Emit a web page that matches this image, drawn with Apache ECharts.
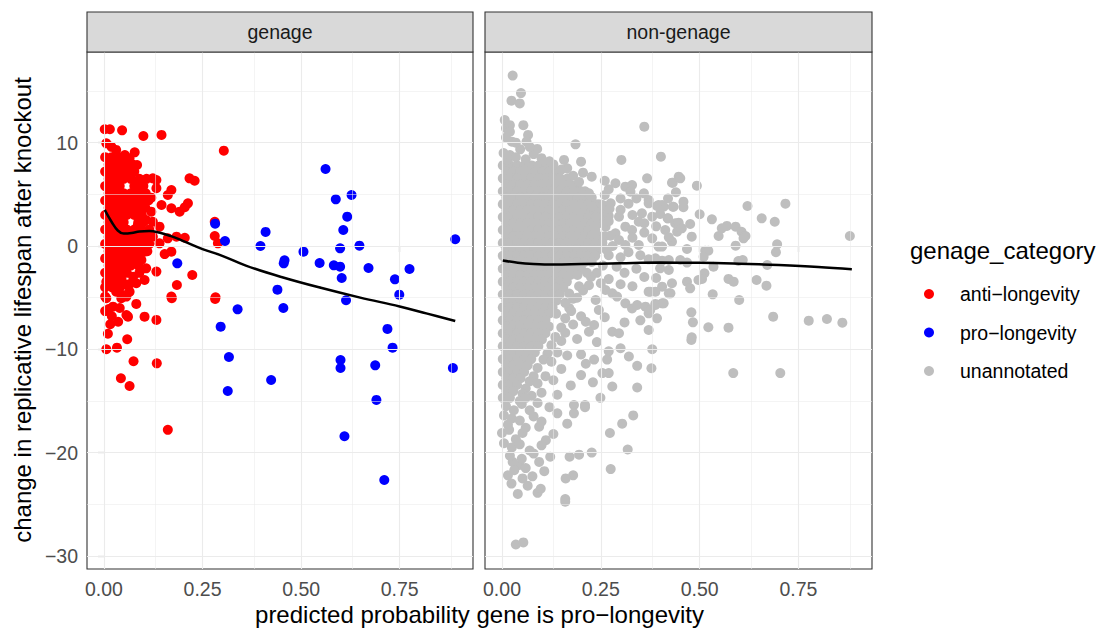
<!DOCTYPE html>
<html><head><meta charset="utf-8">
<script src="https://cdn.jsdelivr.net/npm/echarts@6/dist/echarts.min.js"></script>
<style>html,body{margin:0;padding:0;background:#fff}#c{width:1100px;height:629px}</style>
</head><body><div id="c"></div>
<script>
const facets = ['genage', 'non-genage'];
const categories = ['anti\u2212longevity', 'pro\u2212longevity', 'unannotated'];
const xTicks = [0, 0.25, 0.5, 0.75];
const xTickLabels = ['0.00', '0.25', '0.50', '0.75'];
const xMinor = [0.125, 0.375, 0.625, 0.875];
const yTicks = [-30, -20, -10, 0, 10];
const yTickLabels = ['\u221230', '\u221220', '\u221210', '0', '10'];
const yMinor = [-25, -15, -5, 5, 15];
const xRange = [-0.043, 0.936];
const yRange = [-31.27, 18.78];

// anti-longevity: scattered points read individually
const antiLongevitySparse = [
[0.002,11.3],[0.015,11.3],[0.046,11.2],[0.1,10.65],[0.146,10.75],[0.304,9.23],
[0.006,9.94],[0.019,9.6],[0.031,9.3],[0.053,8.8],[0.078,9.07],[0.065,8.49],[0.084,7.84],[0.065,7.5],[0.124,6.55],[0.133,6.39],[0.217,6.55],[0.23,6.32],[0.086,5.9],[0.133,5.6],[0.171,5.42],[0.162,4.94],[0.12,4.68],[0.146,3.97],[0.171,3.65],[0.213,4.13],[0.205,3.75],[0.192,3.32],[0.12,3.32],[0.107,2.52],[0.124,2.35],[0.086,2.03],[0.141,1.87],[0.281,2.35],[0.184,0.9],[0.205,0.8],[0.281,0.97],[0.289,0.26],[0.141,0.26],[0.162,0.74],[0.103,-0.55],[0.09,-1.03],[0.154,-0.78],[0.171,-0.55],[0.133,-2.48],[0.107,-2.16],[0.095,-1.36],[0.224,-2.81],[0.185,-3.78],[0.171,-4.9],[0.283,-4.97],[0.074,-2.97],[0.057,-3.78],[0.031,-4.42],[0.048,-4.74],[0.065,-4.42],[0.006,-3.45],[0.003,-4.9],
[0.031,-3.61],[0.065,-3.68],[0.082,-3.61],[0.103,-3.29],[0.006,-5.06],[0.023,-5.87],[0.044,-5.06],[0.057,-4.9],[0.082,-5.61],[0.172,-5.06],[0.282,-5.13],[0.016,-7.58],[0.036,-7.33],[0.057,-6.68],[0.061,-6.84],[0.103,-6.84],[0.133,-7.16],[0.059,-9.03],[0.006,-10.0],[0.033,-9.84],[0.075,-11.16],[0.134,-11.36],[0.043,-12.8],[0.065,-13.55],[0.162,-17.8],
[0.003,-6.3],[0.012,-6.1],[0.04,-6.0],[0.02,-6.8],[0.01,-8.5]
];
// anti-longevity: dense core, one row per y value with the x positions along it
const antiLongevityCoreRows = [
[8.6,[0.003,0.02,0.04]],
[7.9,[0.012,0.03,0.05,0.072]],
[7.2,[0.003,0.021,0.04,0.058,0.077]],
[6.5,[0.012,0.03,0.05,0.068,0.09,0.108]],
[5.8,[0.003,0.021,0.04,0.077,0.1]],
[5.1,[0.012,0.03,0.05,0.068,0.087,0.106]],
[4.4,[0.003,0.021,0.04,0.058,0.077,0.096,0.113]],
[3.7,[0.012,0.03,0.05,0.068,0.087,0.105]],
[3.0,[0.003,0.021,0.04,0.058,0.077,0.096]],
[2.3,[0.012,0.03,0.05,0.087,0.1]],
[1.6,[0.003,0.021,0.04,0.058,0.077,0.096,0.115]],
[0.9,[0.012,0.03,0.05,0.068,0.087,0.106,0.124]],
[0.2,[0.003,0.021,0.04,0.058,0.077,0.096,0.115]],
[-0.5,[0.012,0.03,0.05,0.068,0.087,0.11]],
[-1.2,[0.003,0.021,0.04,0.058,0.077]],
[-1.9,[0.012,0.03,0.05,0.068,0.087]],
[-2.6,[0.003,0.021,0.04,0.058,0.09]],
[-3.3,[0.012,0.03,0.045]],
[-4.0,[0.003,0.021,0.04]]
];

const proLongevity = [
[0.562,7.45],[0.588,4.52],[0.628,4.94],[0.617,2.84],[0.607,1.55],[0.599,-0.23],[0.648,0.03],[0.891,0.65],[0.41,1.36],[0.397,0.0],[0.506,-0.55],[0.458,-1.39],[0.456,-1.68],[0.547,-1.65],[0.583,-1.87],[0.599,-2.0],[0.603,-3.1],[0.671,-2.13],[0.738,-3.23],[0.775,-2.23],[0.749,-4.71],[0.44,-4.23],[0.282,2.16],[0.307,0.48],[0.614,-5.25],[0.186,-1.68],[0.339,-6.13],[0.455,-6.0],[0.296,-7.81],[0.719,-8.03],[0.732,-9.84],[0.317,-10.75],[0.6,-11.04],[0.6,-11.81],[0.688,-11.55],[0.885,-11.81],[0.424,-12.97],[0.314,-14.04],[0.691,-14.9],[0.61,-18.42],[0.711,-22.65]
];

// unannotated: saturated core, one row per y value with the x positions along it
const unannotatedCoreRows = [
[7.8,[0.002,0.02,0.038,0.057,0.075,0.093,0.112]],
[7.2,[0.011,0.029,0.047,0.066,0.084,0.102,0.12,0.138]],
[6.55,[0.002,0.02,0.038,0.056,0.074,0.093,0.111,0.129,0.147,0.166]],
[5.95,[0.011,0.029,0.047,0.065,0.083,0.101,0.119,0.137,0.155,0.173,0.19]],
[5.3,[0.002,0.02,0.038,0.056,0.074,0.092,0.11,0.128,0.146,0.164,0.182,0.2,0.21]],
[4.7,[0.011,0.029,0.047,0.065,0.083,0.101,0.119,0.137,0.155,0.173,0.191,0.209,0.227]],
[4.05,[0.002,0.02,0.038,0.056,0.074,0.092,0.11,0.128,0.146,0.164,0.182,0.2,0.218,0.236,0.245]],
[3.45,[0.011,0.029,0.047,0.065,0.083,0.101,0.119,0.137,0.155,0.173,0.191,0.209,0.227,0.245,0.256]],
[2.8,[0.002,0.02,0.038,0.056,0.074,0.092,0.11,0.128,0.146,0.164,0.182,0.2,0.218,0.236,0.254]],
[2.2,[0.011,0.029,0.047,0.065,0.083,0.101,0.119,0.137,0.155,0.173,0.191,0.209,0.227,0.245,0.26]],
[1.55,[0.002,0.02,0.038,0.056,0.074,0.092,0.11,0.128,0.146,0.164,0.182,0.2,0.218,0.236]],
[0.95,[0.011,0.029,0.047,0.065,0.083,0.101,0.119,0.137,0.155,0.173,0.191,0.209,0.227,0.245,0.26]],
[0.3,[0.002,0.02,0.038,0.056,0.074,0.092,0.11,0.128,0.146,0.164,0.182,0.2,0.218,0.236,0.254]],
[-0.3,[0.011,0.029,0.047,0.065,0.083,0.101,0.119,0.137,0.155,0.173,0.191,0.209,0.227,0.245]],
[-0.95,[0.002,0.02,0.038,0.056,0.074,0.092,0.11,0.128,0.146,0.164,0.182,0.2,0.218,0.236]],
[-1.55,[0.011,0.029,0.047,0.065,0.083,0.101,0.119,0.137,0.155,0.173,0.191,0.209,0.227]],
[-2.2,[0.002,0.02,0.038,0.056,0.074,0.092,0.11,0.128,0.146,0.164,0.182,0.2]],
[-2.8,[0.011,0.029,0.047,0.065,0.083,0.101,0.119,0.137,0.155,0.173,0.191]],
[-3.45,[0.002,0.02,0.038,0.056,0.074,0.092,0.11,0.128,0.146,0.164]],
[-4.05,[0.011,0.029,0.047,0.065,0.083,0.101,0.119,0.137,0.155]],
[-4.7,[0.002,0.02,0.038,0.056,0.074,0.092,0.11,0.128,0.146]],
[-5.3,[0.011,0.029,0.047,0.065,0.083,0.101,0.119,0.137]],
[-5.95,[0.002,0.02,0.038,0.056,0.074,0.092,0.11,0.128]],
[-6.55,[0.011,0.029,0.047,0.065,0.083,0.101,0.119,0.137]],
[-7.2,[0.002,0.02,0.038,0.056,0.074,0.092,0.11]],
[-7.8,[0.011,0.029,0.047,0.065,0.083,0.101,0.119]],
[-8.45,[0.002,0.02,0.038,0.056,0.074,0.092,0.11]],
[-9.05,[0.011,0.029,0.047,0.065,0.083,0.101]],
[-9.7,[0.002,0.02,0.038,0.056,0.074,0.092]],
[-10.3,[0.011,0.029,0.047,0.065,0.083]],
[-10.95,[0.002,0.02,0.038,0.056,0.074]],
[-11.55,[0.011,0.029,0.047,0.065]],
[-12.2,[0.002,0.02,0.038,0.056]],
[-12.8,[0.011,0.029,0.047]],
[-13.45,[0.002,0.02,0.038]],
[-14.05,[0.011,0.029]],
[-14.7,[0.002,0.02]]
];

// unannotated: scattered points read individually
const unannotatedSparse = [
[0.027,16.5],[0.048,14.8],[0.024,14.07],[0.045,13.8],[0.007,12.2],[0.01,11.4],[0.02,11.7],[0.02,11.07],[0.025,10.1],[0.054,11.7],[0.066,10.75],[0.062,10.1],[0.089,9.4],[0.046,9.36],[0.186,9.84],[0.36,11.55],[0.302,8.33],[0.402,8.65],[0.014,8.33],[0.02,8.8],[0.157,8.33],[0.2,8.16],[0.165,7.52],[0.205,7.1],[0.227,6.71],[0.26,6.32],[0.367,6.55],[0.432,6.13],[0.447,6.71],
[0.004,9.0],[0.035,8.6],[0.06,8.4],[0.08,8.9],[0.1,8.5],[0.12,8.2],[0.07,9.6],[0.01,10.5],[0.035,10.0],[0.13,7.9],[0.15,7.4],[0.18,6.8],[0.195,6.2],
[0.287,6.07],[0.312,5.74],[0.329,5.9],[0.325,5.26],[0.26,4.94],[0.275,4.13],[0.255,3.97],[0.359,5.1],[0.371,4.45],[0.396,3.97],[0.409,3.8],[0.434,3.8],[0.354,3.16],[0.38,2.84],[0.419,2.68],[0.438,2.2],[0.443,1.38],[0.296,2.84],[0.312,1.87],[0.329,1.55],[0.346,2.35],[0.262,1.87],[0.287,1.23],[0.296,0.58],[0.312,0.1],[0.346,0.1],[0.396,-0.06],[0.43,0.42],[0.413,1.55],[0.38,0.74],[0.22,5.1],[0.228,3.8],[0.237,2.84],
[0.27,5.5],[0.3,4.6],[0.32,4.1],[0.34,4.6],[0.3,3.5],[0.33,3.0],[0.36,2.2],[0.39,1.9],[0.4,3.1],[0.42,4.6],[0.44,5.2],[0.27,2.9],[0.28,0.0],[0.33,0.8],[0.36,1.3],[0.27,-0.9],[0.3,-1.1],[0.32,-0.6],[0.35,-0.9],[0.29,-2.0],[0.31,-2.6],[0.34,-2.2],[0.36,-3.0],[0.27,-3.2],[0.3,-3.7],[0.33,-3.9],[0.39,-3.1],[0.25,-3.6],[0.35,-7.2],[0.31,-7.4],[0.26,-6.9],[0.24,-9.3],[0.27,-10.2],[0.2,-12.5],[0.23,-13.2],
[0.27,2.4],[0.275,1.0],[0.272,3.6],[0.265,-0.4],[0.255,-1.9],[0.24,-2.6],[0.225,-3.0],[0.215,-2.6],[0.195,-3.9],[0.18,-5.1],[0.17,-6.0],[0.16,-7.0],[0.15,-7.9],[0.135,-8.8],[0.125,-9.6],[0.115,-10.4],[0.105,-11.0],[0.09,-11.8],[0.08,-12.6],[0.07,-13.1],[0.06,-13.8],[0.052,-14.3],[0.045,-15.0],
[0.43,6.13],[0.451,6.55],[0.493,5.84],[0.621,3.87],[0.717,4.1],[0.88,0.97],[0.657,2.68],[0.69,2.35],[0.531,2.58],[0.5,3.07],[0.459,4.29],[0.459,3.75],[0.432,3.8],[0.405,3.97],[0.392,3.87],[0.371,4.13],[0.42,2.68],[0.447,2.26],[0.455,1.71],[0.476,2.13],[0.48,0.9],[0.468,-0.29],[0.422,0.84],[0.405,-0.06],[0.556,1.71],[0.569,1.94],[0.591,1.87],[0.606,1.38],[0.616,0.97],[0.611,0.74],[0.548,0.97],[0.696,0.16],[0.693,-0.61],[0.591,0.03],[0.514,-0.45],[0.522,-0.45],[0.51,-1.04],[0.468,-1.61],[0.451,-1.36],[0.422,-1.36],[0.405,-1.42],[0.388,-1.19],[0.371,-1.29],[0.535,-2.0],[0.598,-1.45],[0.609,-1.36],[0.671,-1.84],[0.422,-2.32],[0.4,-2.16],[0.512,-2.64],[0.497,-3.29],[0.506,-3.19],[0.468,-3.45],[0.476,-4.1],[0.43,-3.61],[0.405,-3.94],[0.388,-4.42],[0.371,-4.42],[0.573,-3.19],[0.586,-3.45],[0.644,-3.29],[0.669,-3.84],[0.533,-4.68],[0.6,-5.23],[0.422,-4.58],[0.405,-5.55],[0.388,-5.61],[0.392,-7.0],[0.371,-6.52],[0.371,-8.13],[0.479,-6.42],[0.483,-7.39],[0.522,-7.87],[0.573,-7.91],[0.479,-9.1],[0.48,-8.84],[0.686,-6.84],[0.776,-7.23],[0.822,-7.07],[0.861,-7.42],[0.704,-12.3],[0.585,-12.3],
[0.212,-7.33],[0.233,-7.65],[0.22,-8.3],[0.237,-5.23],[0.245,-6.2],[0.262,-4.26],[0.279,-4.58],[0.291,-4.9],[0.312,-5.55],[0.329,-6.04],[0.342,-5.71],[0.363,-5.87],[0.375,-6.2],[0.388,-5.71],[0.409,-5.55],[0.426,-4.58],[0.375,-4.42],[0.279,-8.3],[0.296,-8.45],[0.3,-9.9],[0.321,-10.7],[0.342,-11.6],[0.38,-10.0],[0.378,-11.84],[0.266,-11.0],[0.254,-12.3],[0.27,-12.3],[0.279,-13.6],[0.342,-13.7],[0.249,-14.7],[0.212,-11.4],[0.233,-11.0],[0.174,-13.5],[0.182,-15.4],[0.21,-15.6],[0.182,-16.2],[0.165,-17.2],[0.332,-16.4],[0.304,-17.2],[0.273,-18.1],[0.318,-19.7],[0.227,-20.0],[0.195,-20.2],[0.171,-20.4],[0.275,-21.6],[0.122,-20.4],[0.18,-22.2],[0.161,-22.5],[0.16,-24.5],[0.21,-15.4],
[0.035,-28.9],[0.054,-28.7],[0.16,-24.75],[0.024,-23.0],[0.09,-23.9],[0.098,-23.5],[0.052,-22.5],[0.077,-22.3],[0.107,-21.8],[0.094,-20.9],[0.044,-21.2],[0.027,-20.9],[0.031,-21.7],[0.0,-18.1],[0.018,-17.8],[0.052,-18.1],[0.094,-17.5],[0.111,-18.8],
[0.01,-15.5],[0.03,-15.9],[0.05,-15.3],[0.07,-15.9],[0.09,-15.2],[0.12,-15.6],[0.005,-16.4],[0.025,-16.7],[0.045,-16.9],[0.08,-16.5],[0.1,-17.0],[0.14,-16.2],[0.015,-17.3],[0.035,-18.7],[0.06,-17.6],[0.13,-18.2],[0.005,-19.1],[0.025,-19.5],[0.045,-19.2],[0.07,-19.8],[0.1,-19.3],[0.02,-20.3],[0.05,-20.6],[0.08,-20.1],[0.06,-21.5],[0.065,-23.2],[0.04,-24.0],[0.015,-22.2],
[0.16,-5.5],[0.175,-6.3],[0.19,-5.0],[0.2,-6.8],[0.18,-7.6],[0.16,-8.4],[0.15,-9.2],[0.19,-9.0],[0.205,-4.3],[0.22,-3.8],[0.17,-4.6],[0.14,-10.3],[0.125,-11.2],[0.15,-11.9],[0.11,-12.6],[0.09,-13.3],[0.1,-14.2],[0.075,-14.5],[0.13,-13.0],[0.06,-14.7],[0.165,-10.6],[0.2,-10.5],[0.14,-14.4]
];

const smoothGenage = [[0.002,3.5],[0.02,2.3],[0.035,1.5],[0.05,1.2],[0.07,1.25],[0.09,1.4],[0.115,1.45],[0.14,1.3],[0.17,0.95],[0.2,0.5],[0.25,-0.3],[0.3,-0.95],[0.36,-1.9],[0.45,-3.0],[0.55,-4.05],[0.65,-5.0],[0.75,-5.85],[0.82,-6.55],[0.891,-7.26]];
const smoothNonGenage = [[0.002,-1.4],[0.04,-1.62],[0.08,-1.74],[0.13,-1.8],[0.2,-1.75],[0.3,-1.67],[0.4,-1.61],[0.5,-1.63],[0.6,-1.72],[0.7,-1.85],[0.8,-2.03],[0.885,-2.25]];

const expandRows = rows => rows.flatMap(([y, xs]) => xs.map(x => [x, y]));
const antiLongevity = expandRows(antiLongevityCoreRows).concat(antiLongevitySparse);
const unannotated = expandRows(unannotatedCoreRows).concat(unannotatedSparse);

const FONT = '"Liberation Sans", Arial, Helvetica, sans-serif';
const grids = [
  {left: 87, top: 52, width: 386, height: 517},
  {left: 485, top: 52, width: 387, height: 517}
];
const chart = echarts.init(document.getElementById('c'), null, {renderer: 'svg'});

function lookup(vals, labels, v) {
  for (let i = 0; i < vals.length; i++) if (Math.abs(vals[i] - v) < 1e-9) return labels[i];
  return '';
}
function gridLines() {
  const d = [];
  xTicks.forEach(v => d.push({xAxis: v, lineStyle: {width: 1.1}}));
  xMinor.forEach(v => d.push({xAxis: v, lineStyle: {width: 0.55}}));
  yTicks.forEach(v => d.push({yAxis: v, lineStyle: {width: 1.1}}));
  yMinor.forEach(v => d.push({yAxis: v, lineStyle: {width: 0.55}}));
  return d;
}

const option = {
  animation: false,
  backgroundColor: '#ffffff',
  textStyle: {fontFamily: FONT},
  grid: grids.map(g => Object.assign({show: true, borderColor: '#333333', borderWidth: 1.1, backgroundColor: 'transparent', containLabel: false}, g)),
  xAxis: [0, 1].map(i => ({
    type: 'value', gridIndex: i, min: xRange[0], max: xRange[1],
    axisLine: {show: false}, splitLine: {show: false},
    axisTick: {show: true, customValues: xTicks, length: 6, lineStyle: {color: '#333333', width: 1.1}},
    axisLabel: {customValues: xTicks, formatter: v => lookup(xTicks, xTickLabels, v), color: '#4D4D4D', fontSize: 19.5, margin: 10, fontFamily: FONT}
  })),
  yAxis: [0, 1].map(i => ({
    type: 'value', gridIndex: i, min: yRange[0], max: yRange[1],
    axisLine: {show: false}, splitLine: {show: false},
    axisTick: {show: i === 0, customValues: yTicks, length: 6, lineStyle: {color: '#333333', width: 1.1}},
    axisLabel: {show: i === 0, customValues: yTicks, formatter: v => lookup(yTicks, yTickLabels, v), color: '#4D4D4D', fontSize: 19.5, margin: 9, fontFamily: FONT}
  })),
  legend: {
    orient: 'vertical', left: 919, top: 279, icon: 'circle', itemWidth: 10, itemHeight: 10, itemGap: 18.5,
    data: categories, selectedMode: false,
    textStyle: {fontSize: 19.5, color: '#000000', fontFamily: FONT, lineHeight: 20, padding: [0, 0, 0, 21]}
  },
  graphic: [
    {type: 'rect', shape: {x: grids[0].left, y: 12, width: grids[0].width, height: 40}, style: {fill: '#D9D9D9', stroke: '#333333', lineWidth: 1.1}, z: 10},
    {type: 'rect', shape: {x: grids[1].left, y: 12, width: grids[1].width, height: 40}, style: {fill: '#D9D9D9', stroke: '#333333', lineWidth: 1.1}, z: 10},
    {type: 'text', x: grids[0].left + grids[0].width / 2, y: 32, style: {text: facets[0], fill: '#1A1A1A', fontSize: 19.5, fontFamily: FONT, textAlign: 'center', textVerticalAlign: 'middle'}, z: 11},
    {type: 'text', x: grids[1].left + grids[1].width / 2, y: 32, style: {text: facets[1], fill: '#1A1A1A', fontSize: 19.5, fontFamily: FONT, textAlign: 'center', textVerticalAlign: 'middle'}, z: 11},
    {type: 'text', x: 479.5, y: 614, style: {text: 'predicted probability gene is pro\u2212longevity', fill: '#000000', fontSize: 24, fontFamily: FONT, textAlign: 'center', textVerticalAlign: 'middle'}},
    {type: 'text', x: 22, y: 310, rotation: Math.PI / 2, style: {text: 'change in replicative lifespan after knockout', fill: '#000000', fontSize: 24, fontFamily: FONT, textAlign: 'center', textVerticalAlign: 'middle'}},
    {type: 'text', x: 910, y: 250, style: {text: 'genage_category', fill: '#000000', fontSize: 24, fontFamily: FONT, textAlign: 'left', textVerticalAlign: 'middle'}}
  ],
  series: [
    {type: 'scatter', name: '_grid0', xAxisIndex: 0, yAxisIndex: 0, data: [[0, 0]], symbolSize: 0, silent: true, z: 1,
      markLine: {silent: true, symbol: 'none', animation: false, label: {show: false}, lineStyle: {color: '#EBEBEB', type: 'solid'}, data: gridLines()}},
    {type: 'scatter', name: '_grid1', xAxisIndex: 1, yAxisIndex: 1, data: [[0, 0]], symbolSize: 0, silent: true, z: 1,
      markLine: {silent: true, symbol: 'none', animation: false, label: {show: false}, lineStyle: {color: '#EBEBEB', type: 'solid'}, data: gridLines()}},
    {type: 'scatter', name: categories[0], xAxisIndex: 0, yAxisIndex: 0, data: antiLongevity, symbolSize: 10, itemStyle: {color: '#FF0000', opacity: 1}, z: 3},
    {type: 'scatter', name: categories[1], xAxisIndex: 0, yAxisIndex: 0, data: proLongevity, symbolSize: 10, itemStyle: {color: '#0000FF', opacity: 1}, z: 4},
    {type: 'scatter', name: categories[2], xAxisIndex: 1, yAxisIndex: 1, data: unannotated, symbolSize: 10, itemStyle: {color: '#BEBEBE', opacity: 1}, z: 3},
    {type: 'line', name: 'smooth_genage', xAxisIndex: 0, yAxisIndex: 0, data: smoothGenage, smooth: 0.4, showSymbol: false, symbol: 'none', lineStyle: {color: '#000000', width: 2.5}, z: 5, silent: true},
    {type: 'line', name: 'smooth_non_genage', xAxisIndex: 1, yAxisIndex: 1, data: smoothNonGenage, smooth: 0.4, showSymbol: false, symbol: 'none', lineStyle: {color: '#000000', width: 2.5}, z: 5, silent: true}
  ]
};
chart.setOption(option);
</script>
</body></html>
